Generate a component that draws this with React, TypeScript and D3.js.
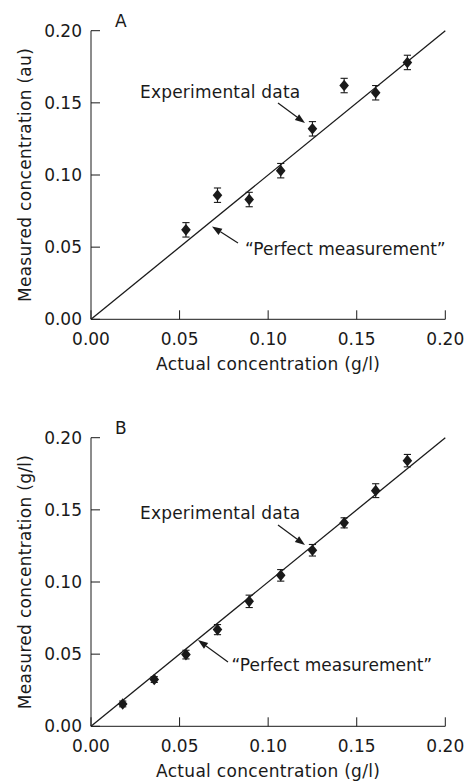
import React from "react";
import * as d3 from "d3";

// ---- Data ----
const xTicks = [0, 0.05, 0.1, 0.15, 0.2];
const yTicks = [0, 0.05, 0.1, 0.15, 0.2];

const actualA = [0.0536, 0.0714, 0.0893, 0.1071, 0.125, 0.1429, 0.1607, 0.1786];
const measuredA = [0.062, 0.086, 0.083, 0.103, 0.132, 0.162, 0.157, 0.178];
const errorA = [0.005, 0.005, 0.005, 0.005, 0.005, 0.005, 0.005, 0.005];

const actualB = [0.0179, 0.0357, 0.0536, 0.0714, 0.0893, 0.1071, 0.125, 0.1429, 0.1607, 0.1786];
const measuredB = [0.0155, 0.0324, 0.0497, 0.067, 0.0866, 0.1046, 0.122, 0.141, 0.1633, 0.1841];
const errorB = [0.002, 0.002, 0.003, 0.0035, 0.0043, 0.004, 0.004, 0.0035, 0.0048, 0.0043];

const perfectLine = [0, 0.2];

const panelLabels = ["A", "B"];
const yTitles = ["Measured concentration (au)", "Measured concentration (g/l)"];
const xTitle = "Actual concentration (g/l)";
const dataLabel = "Experimental data";
const lineLabel = "\u201CPerfect measurement\u201D";

const FONT = "'DejaVu Sans', sans-serif";
const FS = 17;
const INK = "#1a1a1a";

type Panel = {
  top: number;
  label: string;
  yTitle: string;
  xs: number[];
  ys: number[];
  es: number[];
  dataText: { x: number; y: number };
  dataArrow: [number, number, number, number];
  lineText: { x: number; y: number };
  lineArrow: [number, number, number, number];
  xTickGap: number;
};

const panels: Panel[] = [
  {
    top: 0,
    label: panelLabels[0],
    yTitle: yTitles[0],
    xs: actualA,
    ys: measuredA,
    es: errorA,
    dataText: { x: 140, y: 98 },
    dataArrow: [278, 103, 305, 123],
    lineText: { x: 245, y: 255 },
    lineArrow: [238, 243, 212, 226.5],
    xTickGap: 26,
  },
  {
    top: 407,
    label: panelLabels[1],
    yTitle: yTitles[1],
    xs: actualB,
    ys: measuredB,
    es: errorB,
    dataText: { x: 140, y: 112 },
    dataArrow: [278, 118, 305, 138],
    lineText: { x: 231.5, y: 264 },
    lineArrow: [228, 255, 198, 233],
    xTickGap: 26,
  },
];

const left = 91;
const right = 445.3;
const plotTop = 30.7;
const plotBottom = 319.3;

function Arrow({ a }: { a: [number, number, number, number] }) {
  const [x1, y1, x2, y2] = a;
  const ang = Math.atan2(y2 - y1, x2 - x1);
  const L = 10;
  const W = 3.6;
  const bx = x2 - L * Math.cos(ang);
  const by = y2 - L * Math.sin(ang);
  const px = -Math.sin(ang) * W;
  const py = Math.cos(ang) * W;
  return (
    <g>
      <line x1={x1} y1={y1} x2={bx} y2={by} stroke={INK} strokeWidth={1.2} />
      <polygon
        points={`${x2},${y2} ${bx + px},${by + py} ${bx - px},${by - py}`}
        fill={INK}
      />
    </g>
  );
}

function PanelChart({ p }: { p: Panel }) {
  const x = d3.scaleLinear().domain([0, 0.2]).range([left, right]);
  const y = d3.scaleLinear().domain([0, 0.2]).range([plotBottom, plotTop]);
  const line = d3
    .line<number>()
    .x((d) => x(d))
    .y((d) => y(d));
  const fmt = d3.format(".2f");
  const hw = 4.8;
  const hh = 5.8;
  const cap = 3.6;
  return (
    <g transform={`translate(0,${p.top})`} fontFamily={FONT} fontSize={FS} fill={INK}>
      {/* axes */}
      <line x1={left} x2={left} y1={plotTop} y2={plotBottom} stroke={INK} strokeWidth={1} />
      <line x1={left} x2={right} y1={plotBottom} y2={plotBottom} stroke={INK} strokeWidth={1} />
      {yTicks.map((t) => (
        <g key={"y" + t}>
          <line x1={left} x2={left + 9} y1={y(t)} y2={y(t)} stroke={INK} strokeWidth={1} />
          <text x={left - 9} y={y(t)} dy="0.36em" textAnchor="end">
            {fmt(t)}
          </text>
        </g>
      ))}
      {xTicks.map((t) => (
        <g key={"x" + t}>
          <line x1={x(t)} x2={x(t)} y1={plotBottom} y2={plotBottom - 9} stroke={INK} strokeWidth={1} />
          <text x={x(t)} y={plotBottom + p.xTickGap} textAnchor="middle">
            {fmt(t)}
          </text>
        </g>
      ))}
      <text x={(left + right) / 2} y={plotBottom + 51} textAnchor="middle" letterSpacing={0.3}>
        {xTitle}
      </text>
      <text
        transform={`translate(31,${(plotTop + plotBottom) / 2}) rotate(-90)`}
        textAnchor="middle"
        letterSpacing={0.3}
      >
        {p.yTitle}
      </text>
      <text x={115} y={27}>
        {p.label}
      </text>

      {/* perfect line */}
      <path d={line(perfectLine) || ""} stroke={INK} strokeWidth={1.3} fill="none" />

      {/* error bars + markers */}
      {p.xs.map((xv, i) => {
        const cx = x(xv);
        const cy = y(p.ys[i]);
        const y1 = y(p.ys[i] + p.es[i]);
        const y2 = y(p.ys[i] - p.es[i]);
        return (
          <g key={i}>
            <line x1={cx} x2={cx} y1={y1} y2={y2} stroke={INK} strokeWidth={1.1} />
            <line x1={cx - cap} x2={cx + cap} y1={y1} y2={y1} stroke={INK} strokeWidth={1.1} />
            <line x1={cx - cap} x2={cx + cap} y1={y2} y2={y2} stroke={INK} strokeWidth={1.1} />
            <polygon
              points={`${cx},${cy - hh} ${cx + hw},${cy} ${cx},${cy + hh} ${cx - hw},${cy}`}
              fill={INK}
            />
          </g>
        );
      })}

      {/* annotations */}
      <text x={p.dataText.x} y={p.dataText.y} letterSpacing={0.2}>
        {dataLabel}
      </text>
      <Arrow a={p.dataArrow} />
      <text x={p.lineText.x} y={p.lineText.y}>
        {lineLabel}
      </text>
      <Arrow a={p.lineArrow} />
    </g>
  );
}

export default function App() {
  return (
    <svg
      width={464}
      height={783}
      style={{ position: "absolute", left: 0, top: 0, background: "#fff" }}
    >
      <rect width={464} height={783} fill="#fff" />
      {panels.map((p) => (
        <PanelChart key={p.label} p={p} />
      ))}
    </svg>
  );
}
